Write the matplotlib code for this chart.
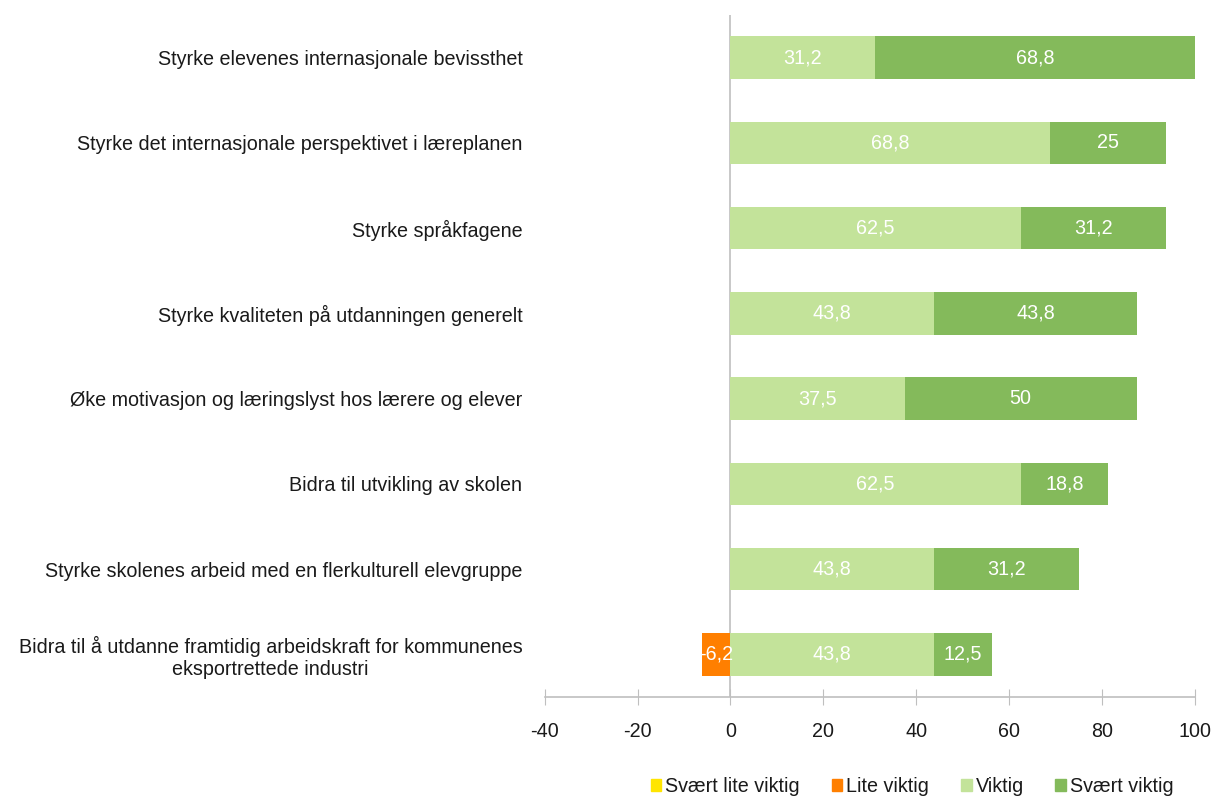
import matplotlib
matplotlib.use('agg')
import matplotlib.pyplot as plt
from matplotlib.patches import Patch

plt.rcParams["font.family"] = ["Liberation Sans", "DejaVu Sans"]

# data, top to bottom
categories = [
    "Styrke elevenes internasjonale bevissthet",
    "Styrke det internasjonale perspektivet i læreplanen",
    "Styrke språkfagene",
    "Styrke kvaliteten på utdanningen generelt",
    "Øke motivasjon og læringslyst hos lærere og elever",
    "Bidra til utvikling av skolen",
    "Styrke skolenes arbeid med en flerkulturell elevgruppe",
    "Bidra til å utdanne framtidig arbeidskraft for kommunenes\neksportrettede industri",
]
svaert_lite = [0, 0, 0, 0, 0, 0, 0, 0]
lite = [0, 0, 0, 0, 0, 0, 0, -6.2]
viktig = [31.2, 68.8, 62.5, 43.8, 37.5, 62.5, 43.8, 43.8]
svaert = [68.8, 25, 31.2, 43.8, 50, 18.8, 31.2, 12.5]
xticks = [-40, -20, 0, 20, 40, 60, 80, 100]

c_yellow = "#FFE500"
c_orange = "#FF7F00"
c_light = "#C3E39A"
c_dark = "#84BA5B"
grey = "#BFBFBF"
txt = "#1a1a1a"

def fmt(v):
    s = "{:.1f}".format(v)
    if s.endswith(".0"):
        s = s[:-2]
    return s.replace(".", ",")

fig = plt.figure(figsize=(12.13, 7.96), dpi=100)
ax = fig.add_axes([0.449, 0.1244, 0.536, 0.8568])

ypos = list(range(len(categories)))[::-1]
h = 0.5

ax.barh(ypos, svaert_lite, height=h, color=c_yellow)
ax.barh(ypos, lite, height=h, color=c_orange)
ax.barh(ypos, viktig, height=h, color=c_light)
ax.barh(ypos, svaert, left=viktig, height=h, color=c_dark)

fs = 14.2
for y, l, v, s in zip(ypos, lite, viktig, svaert):
    if l != 0:
        ax.text(l / 2, y, fmt(l), color="white", ha="center", va="center", fontsize=fs)
    ax.text(v / 2, y, fmt(v), color="white", ha="center", va="center", fontsize=fs)
    ax.text(v + s / 2, y, fmt(s), color="white", ha="center", va="center", fontsize=fs)

ax.axvline(0, color=grey, lw=1.2, zorder=0)

ax.set_xlim(-40, 100)
ax.set_ylim(-0.5, len(categories) - 0.5)
ax.set_xticks(xticks)
ax.set_xticklabels([str(t) for t in xticks], fontsize=fs, color=txt)
ax.set_yticks(ypos)
ax.set_yticklabels(categories, fontsize=fs, color=txt)
ax.tick_params(axis="y", length=0, pad=16)
ax.tick_params(axis="x", direction="inout", length=12, color=grey, pad=12)
for lbl in ax.get_yticklabels():
    lbl.set_multialignment("center")

for sp in ["top", "right", "left"]:
    ax.spines[sp].set_visible(False)
ax.spines["bottom"].set_color(grey)
ax.spines["bottom"].set_linewidth(1.2)

handles = [Patch(color=c_yellow, label="Svært lite viktig"),
           Patch(color=c_orange, label="Lite viktig"),
           Patch(color=c_light, label="Viktig"),
           Patch(color=c_dark, label="Svært viktig")]
fig.legend(handles=handles, loc="lower center", bbox_to_anchor=(0.752, -0.022), ncol=4,
           frameon=False, fontsize=fs, handlelength=0.55, handleheight=0.55,
           handletextpad=0.2, columnspacing=1.6, labelcolor=txt)

fig.savefig("out.png", dpi=100)
